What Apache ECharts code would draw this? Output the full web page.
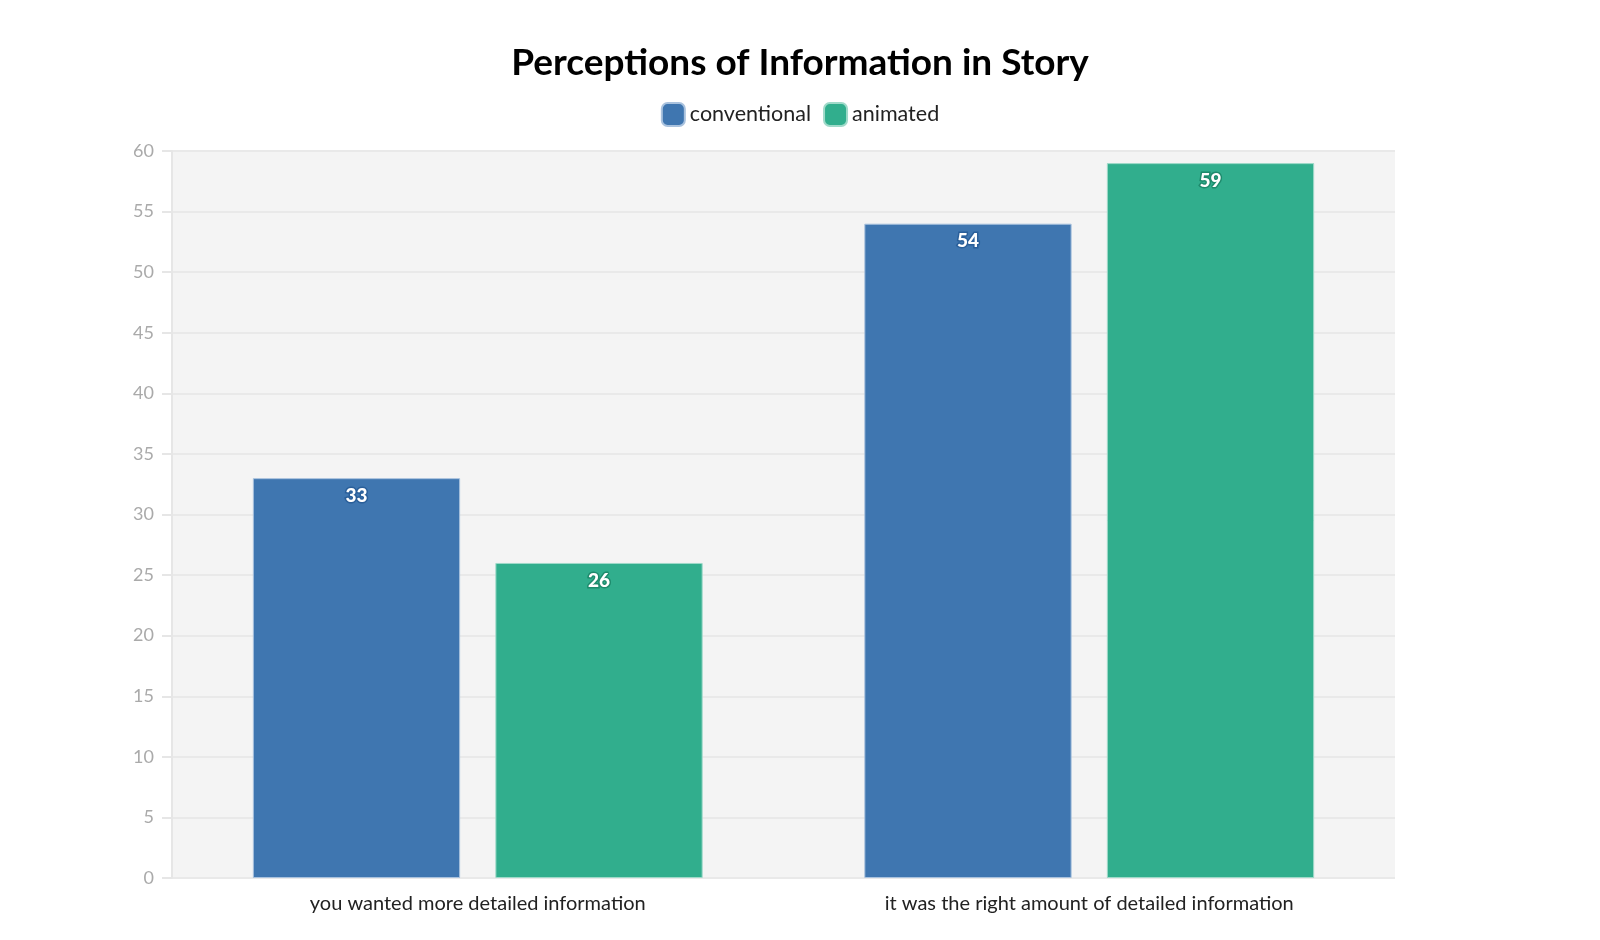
<!DOCTYPE html>
<html><head><meta charset="utf-8">
<script src="https://cdn.jsdelivr.net/npm/echarts@6/dist/echarts.min.js"></script>
<style>html,body{margin:0;padding:0;background:#fff}#c{width:1600px;height:940px}</style>
</head><body><div id="c"></div>
<script>
const categories = ['you wanted more detailed information', 'it was the right amount of detailed information'];
const conventional = [33, 54];
const animated = [26, 59];
const yTicks = [0, 60, 5];

const chart = echarts.init(document.getElementById('c'));
const font = 'Lato, "Noto Sans", sans-serif';
const labelOpt = (stroke) => ({
  show: true, position: 'insideTop', distance: 8,
  color: '#fff', fontWeight: 900, fontSize: 19, fontFamily: font,
  textBorderColor: stroke, textBorderWidth: 3
});
chart.setOption({
  animation: false,
  title: {
    text: 'Perceptions of Information in Story', left: 'center', top: 40,
    textStyle: { fontSize: 37, fontWeight: 'bold', color: '#000', fontFamily: font }
  },
  legend: {
    top: 97, left: 'center', itemWidth: 23, itemHeight: 23, itemGap: 12,
    icon: 'roundRect',
    textStyle: { fontSize: 21.5, color: '#222', fontFamily: font },
    data: ['conventional', 'animated']
  },
  grid: { left: 172, right: 205, top: 151, bottom: 62, show: true, backgroundColor: '#f4f4f4', borderWidth: 0 },
  xAxis: {
    type: 'category', data: categories,
    axisLine: { show: false }, axisTick: { show: false },
    axisLabel: { fontSize: 20, color: '#222', fontFamily: font, margin: 16 }
  },
  yAxis: {
    type: 'value', min: yTicks[0], max: yTicks[1], interval: yTicks[2],
    axisLine: { show: true, lineStyle: { color: '#e6e6e6', width: 2 } },
    axisTick: { show: true, length: 10, lineStyle: { color: '#e6e6e6', width: 2 } },
    axisLabel: { fontSize: 18, color: '#aaa', fontFamily: font, margin: 18 },
    splitLine: { lineStyle: { color: '#e9e9e9', width: 2 } }
  },
  series: [
    { name: 'conventional', type: 'bar', data: conventional, barWidth: '33.9%', barGap: '17%',
      itemStyle: { color: '#3f76b0', borderColor: '#a9c2de', borderWidth: 1 },
      label: labelOpt('#2a5f9a') },
    { name: 'animated', type: 'bar', data: animated, barWidth: '33.9%',
      itemStyle: { color: '#31ae8d', borderColor: '#9fdac9', borderWidth: 1 },
      label: labelOpt('#1e8a6c') }
  ],
  color: ['#2a64a8', '#1ba27f']
});
</script></body></html>
